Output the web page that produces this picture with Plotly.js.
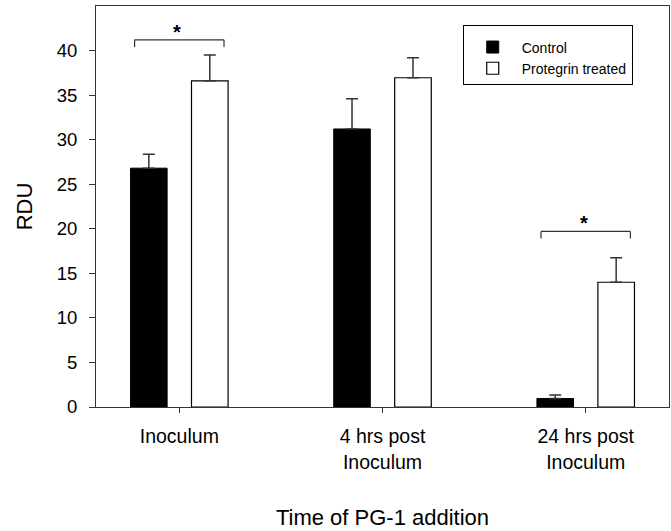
<!DOCTYPE html>
<html>
<head>
<meta charset="utf-8">
<script src="https://cdn.plot.ly/plotly-3.0.1.min.js"></script>
<style>html,body{margin:0;padding:0;background:#fff;}#chart{width:671px;height:531px;}</style>
</head>
<body>
<div id="chart"></div>
<script>
// Data
const categories = ["Inoculum", "4 hrs post<br>Inoculum", "24 hrs post<br>Inoculum"];
const controlValues = [26.8, 31.2, 0.95];
const controlErrors = [1.55, 3.4, 0.4];
const protegrinValues = [36.6, 36.95, 14.0];
const protegrinErrors = [2.9, 2.25, 2.75];
const seriesNames = ["Control", "Protegrin treated"];
const yTicks = [0, 5, 10, 15, 20, 25, 30, 35, 40];
// significance brackets: category index and bracket height (RDU)
const sigIndex = [0, 2];
const sigHeight = [41.2, 19.7];
const sigLabel = ["*", "*"];

const FONT = "Liberation Sans, Arial, Helvetica, sans-serif";

const traces = [
  {
    type: "bar", name: seriesNames[0], x: categories, y: controlValues,
    marker: {color: "#000000", line: {color: "#000000", width: 1}},
    error_y: {type: "data", symmetric: false, array: controlErrors, arrayminus: controlErrors.map(() => 0),
              color: "#333333", thickness: 1.5, width: 6}
  },
  {
    type: "bar", name: seriesNames[1], x: categories, y: protegrinValues,
    marker: {color: "#ffffff", line: {color: "#000000", width: 1.2}},
    error_y: {type: "data", symmetric: false, array: protegrinErrors, arrayminus: protegrinErrors.map(() => 0),
              color: "#333333", thickness: 1.5, width: 6}
  }
];

const shapes = [];
const annotations = [];
sigIndex.forEach((ci, k) => {
  const y = sigHeight[k];
  const x0 = ci - 0.22, x1 = ci + 0.22, drop = 0.8;
  const ln = {color: "#333333", width: 1.2};
  shapes.push({type: "line", xref: "x", yref: "y", x0: x0, x1: x1, y0: y, y1: y, line: ln});
  shapes.push({type: "line", xref: "x", yref: "y", x0: x0, x1: x0, y0: y, y1: y - drop, line: ln});
  shapes.push({type: "line", xref: "x", yref: "y", x0: x1, x1: x1, y0: y, y1: y - drop, line: ln});
  annotations.push({xref: "x", yref: "y", x: ci - 0.01, y: y, text: "<b>" + sigLabel[k] + "</b>",
    showarrow: false, yanchor: "bottom", yshift: -5, font: {family: FONT, size: 20, color: "#000"}});
});

const layout = {
  width: 671, height: 531,
  margin: {l: 96, r: 2, t: 6, b: 124, pad: 0},
  paper_bgcolor: "#ffffff", plot_bgcolor: "#ffffff",
  font: {family: FONT, color: "#000000", size: 18},
  barmode: "group", bargap: 0.4, bargroupgap: 0.4,
  showlegend: true,
  legend: {x: 0.64, y: 0.952, xanchor: "left", yanchor: "top",
           bgcolor: "#ffffff", bordercolor: "#000000", borderwidth: 1,
           font: {family: FONT, size: 14, color: "#000"}, itemwidth: 48,
           title: {text: " ", font: {family: FONT, size: 4}},
           tracegroupgap: 0},
  xaxis: {
    type: "category", range: [-0.41, 2.41],
    showline: true, linecolor: "#333333", linewidth: 1, mirror: true,
    ticks: "outside", ticklen: 5, tickcolor: "#333333",
    showgrid: false, zeroline: false,
    tickfont: {family: FONT, size: 19.5, color: "#000"},
    ticklabelstandoff: 7,
    title: {text: "Time of PG-1 addition", font: {family: FONT, size: 22, color: "#000"}, standoff: 37}
  },
  yaxis: {
    range: [0, 45], tickvals: yTicks,
    showline: true, linecolor: "#333333", linewidth: 1, mirror: true,
    ticks: "outside", ticklen: 6, tickcolor: "#333333",
    showgrid: false, zeroline: false,
    tickfont: {family: FONT, size: 18.5, color: "#000"},
    ticklabelstandoff: 8,
    title: {text: "RDU", font: {family: FONT, size: 22, color: "#000"}, standoff: 18}
  },
  shapes: shapes,
  annotations: annotations
};

Plotly.newPlot("chart", traces, layout, {displayModeBar: false, staticPlot: true});
</script>
</body>
</html>
